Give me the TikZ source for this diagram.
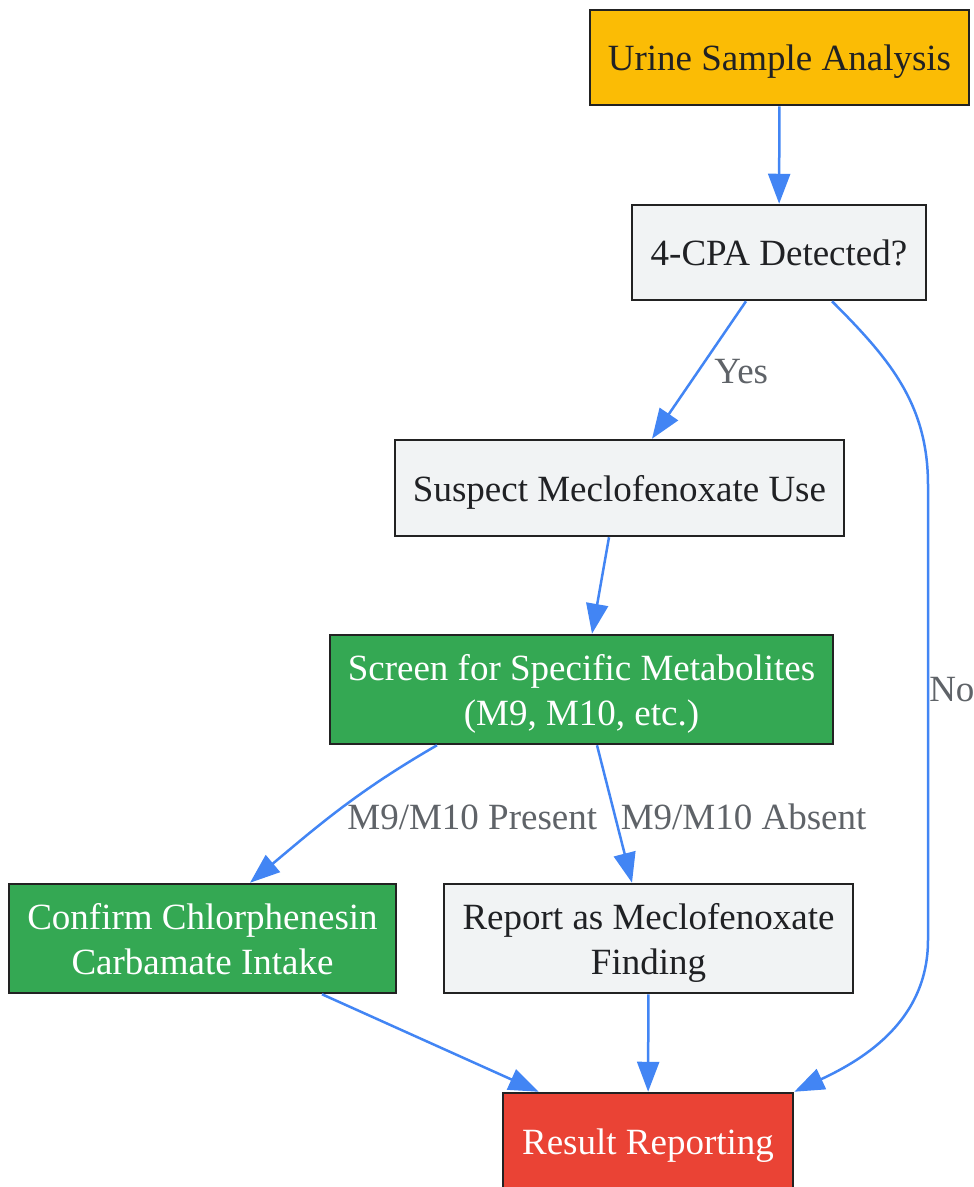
\documentclass[tikz,border=0pt]{standalone}
\usepackage{fontspec}
\setmainfont{Liberation Serif}
\usetikzlibrary{arrows.meta,positioning}

\definecolor{flow}{HTML}{4285F4}
\definecolor{boxline}{HTML}{222222}
\definecolor{ink}{HTML}{202124}
\definecolor{labelgray}{HTML}{5F6368}
\definecolor{startfill}{HTML}{FBBC05}
\definecolor{stepfill}{HTML}{F1F3F4}
\definecolor{goodfill}{HTML}{34A853}
\definecolor{endfill}{HTML}{EA4335}

% line struts, so every box text sits the same way
\newcommand{\boxstrut}{\rule[-9.5pt]{0pt}{45.5pt}}
\newcommand{\tallstrut}{\rule{0pt}{37pt}}

\begin{document}
\begin{tikzpicture}[
    x = 1pt,
    y = -1pt,
    line width = 2.5pt,
    >={Triangle[length=30pt,width=22pt]},
    box/.style = {
      draw = boxline,
      rectangle,
      inner sep = 0pt,
      align = center,
      font = \fontsize{37}{45}\selectfont,
      text = ink,
      fill = stepfill,
      execute at begin node = \boxstrut,
      execute at end node = \boxstrut
    },
    green/.style = {box, fill = goodfill, text = white},
    link/.style = {->, draw = flow},
    lbl/.style = {
      inner sep = 0pt,
      font = \fontsize{37}{45}\selectfont,
      text = labelgray
    }
  ]
  \useasboundingbox (0,0) rectangle (974,1187);

  \node (urine) at (779.5,57.5) [box, fill=startfill, minimum width=379pt, minimum height=95pt] {Urine Sample Analysis};
  \node (cpa) at (779,252.5) [box, minimum width=294pt, minimum height=95pt] {4-CPA Detected?};
  \node (suspect) at (619.5,488) [box, minimum width=449pt, minimum height=96pt] {Suspect Meclofenoxate Use};
  \node (screen) at (581.5,689.5) [green, minimum width=503pt, minimum height=109pt] {\tallstrut Screen for Specific Metabolites\\(M9, M10, etc.)};
  \node (confirm) at (202.5,938.5) [green, minimum width=387pt, minimum height=109pt] {\tallstrut Confirm Chlorphenesin\\Carbamate Intake};
  \node (report) at (648.5,938.5) [box, minimum width=409pt, minimum height=109pt] {\tallstrut Report as Meclofenoxate\\Finding};
  \node (result) at (648,1141) [box, fill=endfill, text=white, minimum width=290pt, minimum height=96pt] {Result Reporting};

  \coordinate (noTop) at (928,485);
  \coordinate (noBot) at (928,940);

  \draw[link] (urine) -- (cpa);
  \draw[link] ([xshift=-33pt]cpa.south) -- node[lbl, right=14pt, yshift=-2pt] {Yes} ([xshift=32.5pt]suspect.north);
  \draw[link] ([xshift=53pt]cpa.south) to[out=-45,in=90] (noTop)
    -- node[lbl, right=0pt, pos=0.45] {No} (noBot)
    to[out=-90,in=25] (result.north east);
  \draw[link] ([xshift=-10.5pt]suspect.south) -- ([xshift=10.5pt]screen.north);
  \draw[link] ([xshift=-144.5pt]screen.south) to[out=-150,in=40]
    node[lbl, right=6pt, yshift=-8pt] {M9/M10 Present} ([xshift=47.5pt]confirm.north);
  \draw[link] ([xshift=15.5pt]screen.south) -- node[lbl, right=5pt, yshift=-3pt] {M9/M10 Absent} ([xshift=-16.5pt]report.north);
  \draw[link] ([xshift=119.5pt]confirm.south) -- ([xshift=37pt]result.north west);
  \draw[link] (report) -- (result);
\end{tikzpicture}
\end{document}
